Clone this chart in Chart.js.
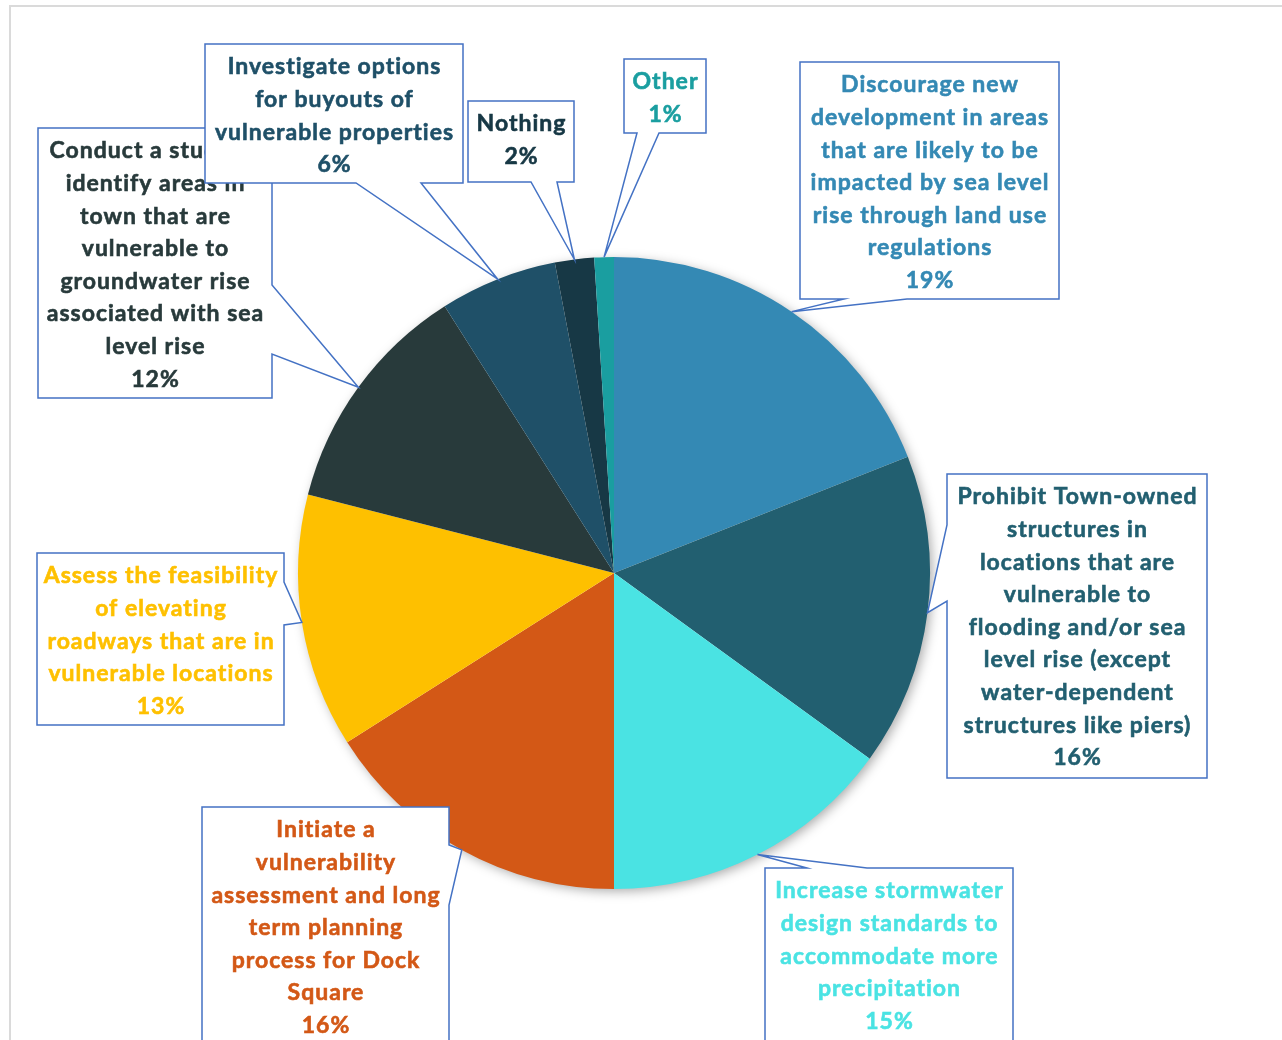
<!DOCTYPE html>
<html>
<head>
<meta charset="utf-8">
<script src="https://cdn.jsdelivr.net/npm/chart.js@4.4.1/dist/chart.umd.min.js"></script>
<style>
  html, body { margin: 0; padding: 0; background: #ffffff; }
  #wrap { width: 1282px; height: 1040px; position: relative; }
</style>
</head>
<body>
<div id="wrap"><canvas id="pie" width="1282" height="1040"></canvas></div>
<script>
// survey answers, clockwise from 12 o'clock
const categories = [
  ['Discourage new', 'development in areas', 'that are likely to be', 'impacted by sea level', 'rise through land use', 'regulations'],
  ['Prohibit Town-owned', 'structures in', 'locations that are', 'vulnerable to', 'flooding and/or sea', 'level rise (except', 'water-dependent', 'structures like piers)'],
  ['Increase stormwater', 'design standards to', 'accommodate more', 'precipitation'],
  ['Initiate a', 'vulnerability', 'assessment and long', 'term planning', 'process for Dock', 'Square'],
  ['Assess the feasibility', 'of elevating', 'roadways that are in', 'vulnerable locations'],
  ['Conduct a study to', 'identify areas in', 'town that are', 'vulnerable to', 'groundwater rise', 'associated with sea', 'level rise'],
  ['Investigate options', 'for buyouts of', 'vulnerable properties'],
  ['Nothing'],
  ['Other']
];
const shares = [19, 16, 15, 16, 13, 12, 6, 2, 1];

const sliceColors = ['#3489b4', '#225f70', '#4ae3e3', '#d35816', '#fec000', '#283a3b', '#1f5068', '#173845', '#1a9ea0'];
const textColors  = ['#3489b4', '#225f70', '#4ae3e3', '#d35816', '#fec000', '#283a3b', '#1f5068', '#173845', '#1a9ea0'];

// callout boxes: [left, top, right, bottom], side the pointer leaves from, pointer base span on that side
const callouts = [
  { box: [800, 62, 1059, 299],  side: 'bottom', base: [844, 907] },
  { box: [947, 474, 1207, 778], side: 'left',   base: [525, 601] },
  { box: [765, 868, 1013, 1070], side: 'top',   base: [807, 867] },
  { box: [202, 807, 449, 1070], side: 'right',  base: [845, 905] },
  { box: [37, 553, 284, 725],   side: 'right',  base: [582, 625] },
  { box: [38, 128, 272, 398],   side: 'right',  base: [285, 354] },
  { box: [205, 44, 463, 183],   side: 'bottom', base: [356, 421] },
  { box: [468, 101, 574, 182],  side: 'bottom', base: [531, 557] },
  { box: [624, 59, 706, 133],   side: 'bottom', base: [637, 659] }
];

const frame = {
  id: 'frame',
  beforeDraw(chart) {
    const c = chart.ctx;
    c.save();
    c.strokeStyle = '#dadada';
    c.lineWidth = 2;
    c.beginPath();
    c.moveTo(10, 1040);
    c.lineTo(10, 6);
    c.lineTo(1282, 6);
    c.stroke();
    c.restore();
  }
};

// soft shadow under the whole pie
const pieShadow = {
  id: 'pieShadow',
  beforeDatasetsDraw(chart) {
    const arc = chart.getDatasetMeta(0).data[0];
    if (!arc) return;
    const c = chart.ctx;
    c.save();
    c.shadowColor = 'rgba(0,0,0,0.35)';
    c.shadowBlur = 12;
    c.shadowOffsetX = 3;
    c.shadowOffsetY = 3;
    c.fillStyle = '#ffffff';
    c.beginPath();
    c.arc(arc.x, arc.y, arc.outerRadius - 1, 0, Math.PI * 2);
    c.fill();
    c.restore();
  }
};

function calloutPath(c, co, tip) {
  const [l, t, r, b] = co.box;
  const [p, q] = co.base;
  c.beginPath();
  c.moveTo(l, t);
  if (co.side === 'top') { c.lineTo(p, t); c.lineTo(tip.x, tip.y); c.lineTo(q, t); }
  c.lineTo(r, t);
  if (co.side === 'right') { c.lineTo(r, p); c.lineTo(tip.x, tip.y); c.lineTo(r, q); }
  c.lineTo(r, b);
  if (co.side === 'bottom') { c.lineTo(q, b); c.lineTo(tip.x, tip.y); c.lineTo(p, b); }
  c.lineTo(l, b);
  if (co.side === 'left') { c.lineTo(l, q); c.lineTo(tip.x, tip.y); c.lineTo(l, p); }
  c.closePath();
}

const calloutLabels = {
  id: 'calloutLabels',
  afterDatasetsDraw(chart) {
    const c = chart.ctx;
    const meta = chart.getDatasetMeta(0);
    meta.data.forEach((arc, i) => {
      const co = callouts[i];
      const mid = (arc.startAngle + arc.endAngle) / 2;
      const tip = { x: arc.x + Math.cos(mid) * arc.outerRadius, y: arc.y + Math.sin(mid) * arc.outerRadius };
      c.save();
      calloutPath(c, co, tip);
      c.fillStyle = '#ffffff';
      c.fill();
      c.strokeStyle = '#4472c4';
      c.lineWidth = 1.5;
      c.stroke();
      const lines = categories[i].concat([shares[i] + '%']);
      const cx = (co.box[0] + co.box[2]) / 2;
      c.fillStyle = textColors[i];
      c.strokeStyle = textColors[i];
      c.lineWidth = 0.6;
      c.font = 'bold 23px Lato';
      c.letterSpacing = '1px';
      c.textAlign = 'center';
      c.textBaseline = 'middle';
      lines.forEach((ln, k) => {
        const y = co.box[1] + 23 + k * 32.6;
        c.fillText(ln, cx + 0.5, y);
        c.strokeText(ln, cx + 0.5, y);
      });
      c.restore();
    });
  }
};

new Chart(document.getElementById('pie'), {
  type: 'pie',
  data: {
    labels: categories.map(l => l.join(' ')),
    datasets: [{
      data: shares,
      backgroundColor: sliceColors,
      borderWidth: 0
    }]
  },
  options: {
    responsive: false,
    animation: false,
    layout: { padding: { left: 298, top: 257, right: 352, bottom: 151 } },
    plugins: {
      legend: { display: false },
      tooltip: { enabled: false }
    }
  },
  plugins: [frame, pieShadow, calloutLabels]
});
</script>
</body>
</html>
